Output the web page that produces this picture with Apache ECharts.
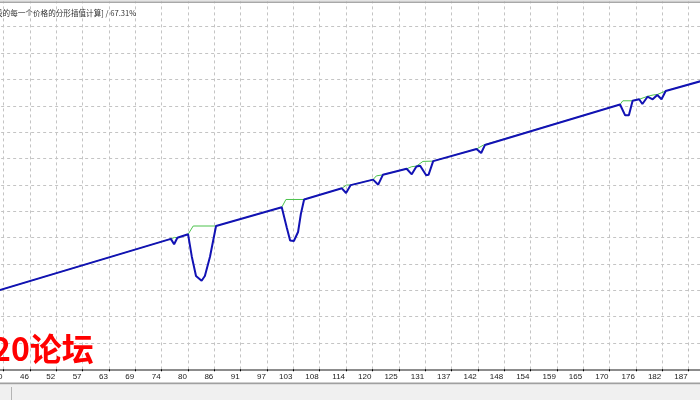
<!DOCTYPE html>
<html>
<head>
<meta charset="utf-8">
<script src="https://cdn.jsdelivr.net/npm/echarts@6/dist/echarts.min.js"></script>
<style>
html,body{margin:0;padding:0;background:#fff;}
#c{width:700px;height:400px;}
</style>
</head>
<body>
<div id="c"></div>
<script>
// x-axis tick labels (trade numbers), one per tick, first/last are off-screen
var tickLabels = ['35','40','46','52','57','63','69','74','80','86','91','97','103','108','114','120','125','131','137','142','148','154','159','165','170','176','182','187','193'];
var tickStart = 33.93;   // 6 * tickStep
var tickStep = 5.655;

// blue line: [trade, value]
var blueSeries = [
  [38.0, 2964], [75.5, 4950], [76.2, 4744], [76.9, 4990], [79.2, 5123],
  [80.0, 4273], [80.9, 3541], [82.1, 3362], [82.8, 3541], [83.9, 4273], [85.2, 5438],
  [99.3, 6148], [100.4, 5362], [101.1, 4888], [101.9, 4869], [102.8, 5211], [103.4, 5894], [104.1, 6445],
  [112.2, 6869], [113.1, 6690], [114.1, 6990],
  [118.9, 7199], [120.0, 7006], [121.0, 7380],
  [126.1, 7609], [127.2, 7400], [128.2, 7696], [129.0, 7727], [130.3, 7362], [130.8, 7380], [131.8, 7900],
  [141.1, 8360], [142.1, 8208], [142.9, 8510],
  [171.9, 10049], [173.0, 9639], [173.8, 9639], [174.6, 10190],
  [176.0, 10247], [176.7, 10068], [177.8, 10345], [178.9, 10247], [179.9, 10410], [180.8, 10247], [181.7, 10562],
  [190.0, 10975]
];

// green line: [trade, value]
var greenSeries = [
  [38.0, 2964], [75.5, 4950], [76.3, 5005], [76.9, 4990], [79.2, 5123],
  [80.3, 5438], [85.2, 5438],
  [99.3, 6148], [100.2, 6445], [104.1, 6445],
  [112.2, 6869], [113.2, 6994], [114.1, 6990],
  [118.9, 7199], [119.6, 7340], [121.0, 7380],
  [126.1, 7609], [127.2, 7690], [128.2, 7710], [129.6, 7890], [131.8, 7900],
  [141.1, 8360], [142.6, 8510], [142.9, 8510],
  [171.9, 10049], [172.5, 10190], [174.6, 10190],
  [176.0, 10247], [177.8, 10360], [179.0, 10410], [179.9, 10430], [181.7, 10562],
  [190.0, 10975]
];

var titleText = '段的每一个价格的分形插值计算] / 67.31%';
var watermarkText = '20论坛';

var chart = echarts.init(document.getElementById('c'), null, {renderer: 'canvas'});
chart.setOption({
  animation: false,
  backgroundColor: '#ffffff',
  grid: {left: -22.85, right: -14.95, top: 0.4, bottom: 30.7, containLabel: false, outerBoundsMode: 'none'},
  xAxis: {
    type: 'value',
    min: tickStart,
    max: tickStart + 28 * tickStep,
    interval: tickStep,
    axisLine: {show: true, lineStyle: {color: '#8c8c8c', width: 2}},
    axisTick: {show: true, length: 2, lineStyle: {color: '#000', width: 1}},
    axisLabel: {
      show: true,
      fontSize: 8,
      fontFamily: 'Liberation Sans, Arial, sans-serif',
      color: '#1a1a1a',
      margin: 3,
      align: 'right',
      padding: [0, 1, 0, 0],
      formatter: function (v) {
        var i = Math.round((v - tickStart) / tickStep);
        return tickLabels[i] || '';
      }
    },
    splitLine: {show: true, lineStyle: {color: '#c4c4c4', type: [3, 3], width: 1}}
  },
  yAxis: {
    type: 'value',
    min: 0,
    max: 14000,
    interval: 1000,
    axisLine: {show: false},
    axisTick: {show: false},
    axisLabel: {show: false},
    splitLine: {show: true, lineStyle: {color: '#c4c4c4', type: [3, 3], width: 1}}
  },
  series: [
    {
      name: 'green', type: 'line', data: greenSeries, showSymbol: false, symbol: 'none',
      lineStyle: {color: '#4cc24c', width: 1}, z: 2
    },
    {
      name: 'blue', type: 'line', data: blueSeries, showSymbol: false, symbol: 'none',
      lineStyle: {color: '#1212b4', width: 2}, z: 3
    }
  ],
  graphic: [
    {type: 'rect', shape: {x: 0, y: 0, width: 700, height: 1.5}, style: {fill: '#e4e4e4'}, z: 100},
    {type: 'rect', shape: {x: 0, y: 1.5, width: 700, height: 1.5}, style: {fill: '#a8a8a8'}, z: 100},
    {type: 'text', left: -5, top: 9, style: {text: titleText, fontSize: 7.6, fontFamily: 'Noto Sans CJK SC', fill: '#333'}, z: 100},
    {type: 'text', left: -8, top: 333, style: {text: watermarkText, fontSize: 32, fontWeight: 'bold', fontFamily: 'Noto Sans CJK SC', fill: '#ff0000'}, z: 100},
    {type: 'rect', shape: {x: 0, y: 382.5, width: 700, height: 2}, style: {fill: '#a0a0a0'}, z: 100},
    {type: 'rect', shape: {x: 0, y: 384.5, width: 700, height: 15.5}, style: {fill: '#f0f0f0'}, z: 100},
    {type: 'rect', shape: {x: 11, y: 387, width: 1, height: 13}, style: {fill: '#b4b4b4'}, z: 101}
  ]
});
</script>
</body>
</html>
